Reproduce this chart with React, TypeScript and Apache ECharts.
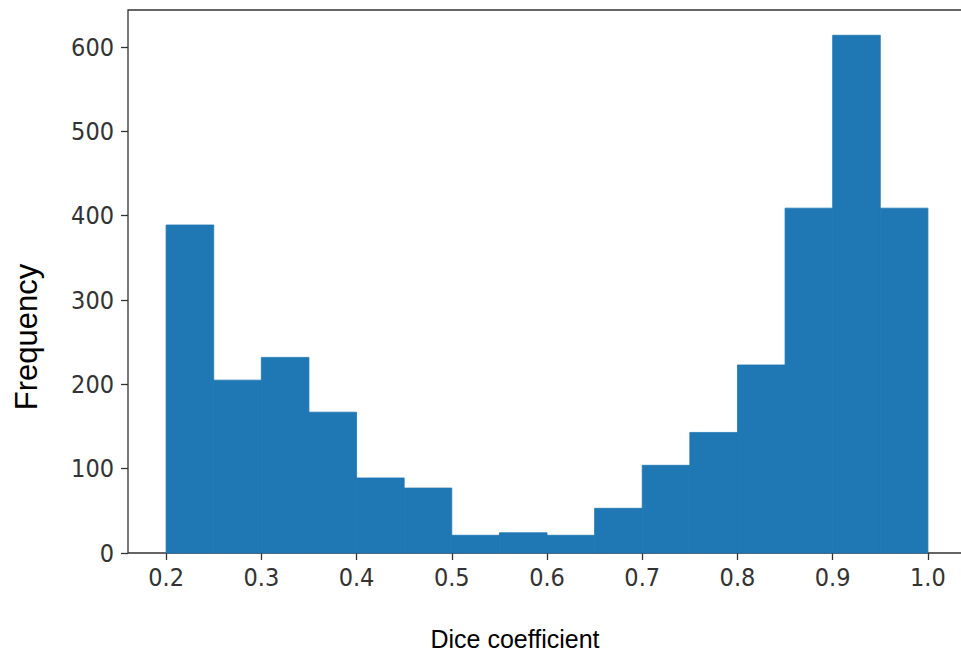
import React, { useEffect, useRef } from "react";
import * as echarts from "echarts";

const binStarts = [0.2, 0.25, 0.3, 0.35, 0.4, 0.45, 0.5, 0.55, 0.6, 0.65, 0.7, 0.75, 0.8, 0.85, 0.9, 0.95];
const binWidth = 0.05;
const counts = [389, 205, 232, 167, 89, 77, 21, 24, 21, 53, 104, 143, 223, 409, 614, 409];
const xTicks = [0.2, 0.3, 0.4, 0.5, 0.6, 0.7, 0.8, 0.9, 1.0];
const yTicks = [0, 100, 200, 300, 400, 500, 600];
const xTitle = "Dice coefficient";
const yTitle = "Frequency";

export default function App() {
  const ref = useRef<HTMLDivElement>(null);
  useEffect(() => {
    if (!ref.current) return;
    const chart = echarts.init(ref.current, null, { renderer: "svg" });
    const data = binStarts.map((s, i) => [s, +(s + binWidth).toFixed(2), counts[i]]);
    const tickFont = "'DejaVu Sans Condensed', 'DejaVu Sans', sans-serif";
    chart.setOption({
      animation: false,
      backgroundColor: "#ffffff",
      grid: {
        left: 128,
        top: 10,
        width: 838,
        height: 543,
        show: true,
        borderColor: "#333",
        borderWidth: 1.3,
        backgroundColor: "transparent",
      },
      xAxis: {
        type: "value",
        min: 0.16,
        max: 1.04,
        axisLine: { show: false },
        splitLine: { show: false },
        axisTick: {
          show: true,
          customValues: xTicks,
          length: 7,
          inside: false,
          lineStyle: { color: "#333", width: 1.3 },
        },
        axisLabel: {
          customValues: xTicks,
          formatter: (v: number) => v.toFixed(1),
          color: "#333",
          fontSize: 25,
          fontFamily: tickFont,
          margin: 12,
        },
      },
      yAxis: {
        type: "value",
        min: 0,
        max: 644,
        axisLine: { show: false },
        splitLine: { show: false },
        axisTick: {
          show: true,
          customValues: yTicks,
          length: 7,
          lineStyle: { color: "#333", width: 1.3 },
        },
        axisLabel: {
          customValues: yTicks,
          color: "#333",
          fontSize: 25,
          fontFamily: tickFont,
          margin: 14,
        },
      },
      series: [
        {
          type: "custom",
          encode: { x: [0, 1], y: 2 },
          data,
          renderItem: (params: any, api: any) => {
            const p0 = api.coord([api.value(0), api.value(2)]);
            const p1 = api.coord([api.value(1), 0]);
            return {
              type: "rect",
              shape: { x: p0[0], y: p0[1], width: p1[0] - p0[0], height: p1[1] - p0[1] },
              style: { fill: "#1f77b4", stroke: "#1f77b4", lineWidth: 0.8 },
            };
          },
        },
      ],
      graphic: [
        {
          type: "text",
          x: 515,
          y: 639,
          style: {
            text: xTitle,
            fill: "#000",
            fontSize: 25,
            fontFamily: "'Liberation Sans', Arial, sans-serif",
            align: "center",
            verticalAlign: "middle",
          },
        },
        {
          type: "text",
          x: 26,
          y: 337,
          rotation: Math.PI / 2,
          style: {
            text: yTitle,
            fill: "#000",
            fontSize: 31,
            fontFamily: "'Liberation Sans', Arial, sans-serif",
            align: "center",
            verticalAlign: "middle",
          },
        },
      ],
    });
    return () => chart.dispose();
  }, []);
  return (
    <div
      style={{ position: "absolute", left: 0, top: 0, width: 961, height: 655, overflow: "hidden" }}
    >
      <div ref={ref} style={{ width: 990, height: 655 }} />
    </div>
  );
}
